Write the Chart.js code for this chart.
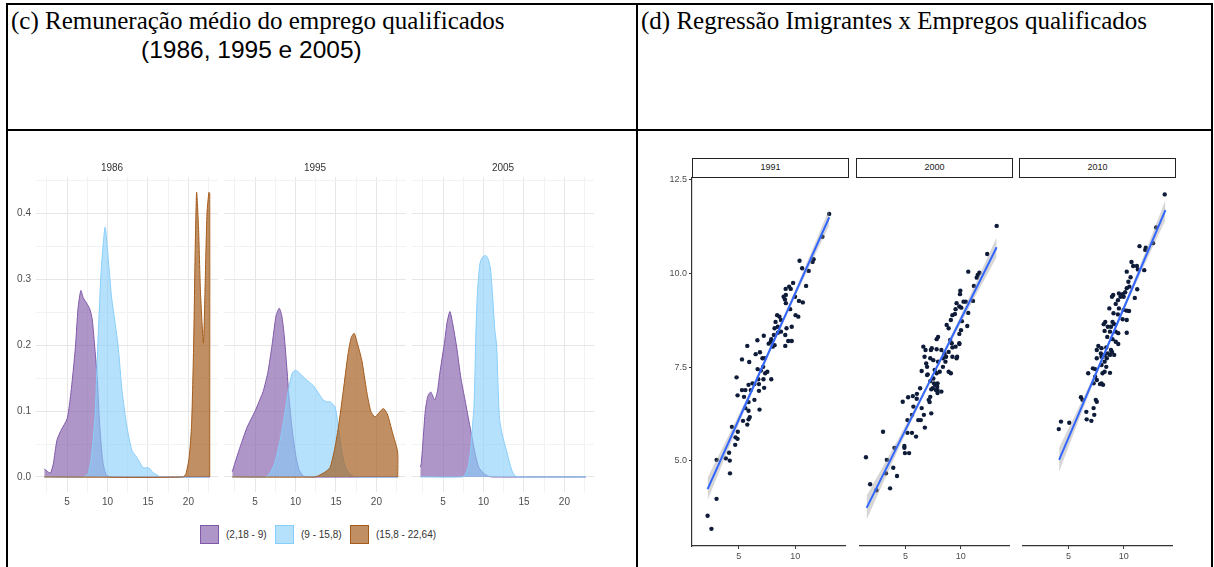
<!DOCTYPE html>
<html lang="pt">
<head>
<meta charset="utf-8">
<title>Remuneração e regressão</title>
<script src="https://cdn.jsdelivr.net/npm/chart.js@4.4.1/dist/chart.umd.min.js"></script>
<style>
  body { margin: 0; width: 1214px; height: 567px; position: relative; overflow: hidden; background: #fff; }
  .rule { position: absolute; background: #000; }
  .head { position: absolute; font-family: "Liberation Serif", "Times New Roman", serif; font-size: 25px; line-height: 25px; white-space: nowrap; color: #000; }
  .sub { position: absolute; font-family: "Liberation Sans", Arial, sans-serif; font-size: 24.5px; line-height: 24px; white-space: nowrap; color: #000; }
  canvas { position: absolute; }
  .strip { position: absolute; box-sizing: border-box; height: 20px; border: 1.5px solid #222; font: 9px "Liberation Sans", Arial, sans-serif; color: #1a1a1a; text-align: center; line-height: 17px; }
  .key { position: absolute; box-sizing: border-box; width: 19px; height: 19px; border: 1px solid; }
  .keytxt { position: absolute; font: 10px "Liberation Sans", Arial, sans-serif; line-height: 12px; color: #333; white-space: nowrap; }
</style>
</head>
<body>

<!-- table frame -->
<div class="rule" style="left:6px;top:3px;width:1207px;height:2px"></div>
<div class="rule" style="left:6px;top:3px;width:2px;height:564px"></div>
<div class="rule" style="left:1211px;top:3px;width:2px;height:564px"></div>
<div class="rule" style="left:636px;top:3px;width:2px;height:564px"></div>
<div class="rule" style="left:6px;top:129px;width:1207px;height:2px"></div>

<div class="head" style="left:11px;top:8px">(c) Remuneração médio do emprego qualificados</div>
<div class="sub" style="left:141px;top:38px">(1986, 1995 e 2005)</div>
<div class="head" style="left:641px;top:8px">(d) Regressão Imigrantes x Empregos qualificados</div>

<canvas id="d0" width="212" height="356" style="left:6px;top:159px"></canvas>
<canvas id="d1" width="182" height="356" style="left:224px;top:159px"></canvas>
<canvas id="d2" width="182" height="356" style="left:412px;top:159px"></canvas>
<div id="keys"></div>

<div class="strip" id="s0" style="left:692px;top:158px;width:157px"></div>
<div class="strip" id="s1" style="left:856px;top:158px;width:157px"></div>
<div class="strip" id="s2" style="left:1019px;top:158px;width:157px"></div>
<canvas id="r0" width="192" height="396" style="left:657px;top:170px"></canvas>
<canvas id="r1" width="157" height="396" style="left:856px;top:170px"></canvas>
<canvas id="r2" width="157" height="396" style="left:1019px;top:170px"></canvas>

<script>
// ---- salary density by year (left) ----
const leftYears = ["1986", "1995", "2005"];
const groups = ["(2,18 - 9)", "(9 - 15,8)", "(15,8 - 22,64)"];
const groupFill = ["rgba(128,90,170,0.64)", "rgba(135,206,250,0.62)", "rgba(162,91,26,0.68)"];
const groupEdge = ["#7f58a8", "#87cefa", "#a35a1a"];

// [salary, density]
const dens1986Low = [[2.18,0.012],[2.6,0.008],[2.95,0.006],[3.3,0.02],[3.75,0.056],[4.3,0.072],[5.0,0.088],[5.4,0.12],[5.75,0.16],[6.05,0.2],[6.35,0.255],[6.7,0.283],[7.0,0.272],[7.4,0.264],[7.8,0.255],[8.1,0.24],[8.4,0.2],[8.7,0.155],[9.05,0.076],[9.4,0.025],[9.8,0.004],[10.3,0],[22.64,0]];
const dens1986Mid = [[2.18,0],[7.0,0],[7.6,0.005],[8.0,0.03],[8.45,0.09],[8.8,0.2],[9.2,0.31],[9.7,0.379],[10.1,0.33],[10.5,0.273],[11.3,0.2],[11.8,0.13],[12.4,0.076],[13.0,0.041],[13.6,0.03],[14.0,0.022],[14.4,0.014],[14.8,0.014],[15.2,0.013],[15.6,0.007],[16.1,0.003],[16.6,0],[22.64,0]];
const dens1986High = [[2.18,0],[19.3,0],[19.7,0.005],[20.1,0.03],[20.4,0.08],[20.65,0.2],[20.85,0.35],[21.02,0.432],[21.25,0.38],[21.5,0.28],[21.86,0.203],[22.05,0.28],[22.3,0.4],[22.54,0.432],[22.64,0.43],[22.64,0]];
const dens1995Low = [[2.18,0.008],[3.0,0.04],[4.0,0.075],[5.0,0.1],[6.0,0.13],[6.6,0.16],[7.1,0.2],[7.6,0.245],[7.99,0.256],[8.3,0.245],[8.6,0.215],[8.9,0.17],[9.2,0.12],[9.6,0.07],[10.0,0.035],[10.4,0.012],[10.9,0.002],[11.4,0],[22.64,0]];
const dens1995Mid = [[2.18,0],[6.3,0],[6.8,0.005],[7.4,0.02],[8.1,0.056],[8.6,0.09],[9.1,0.13],[9.6,0.158],[10.05,0.162],[10.55,0.157],[11.3,0.148],[12.16,0.139],[12.8,0.128],[13.4,0.117],[13.9,0.114],[14.3,0.114],[14.9,0.106],[15.3,0.076],[15.7,0.04],[16.1,0.018],[16.5,0.008],[17.0,0.002],[17.6,0],[22.64,0]];
const dens1995High = [[2.18,0],[12.4,0],[13.0,0.003],[13.6,0.007],[14.26,0.014],[14.8,0.04],[15.3,0.075],[15.9,0.13],[16.5,0.187],[16.9,0.212],[17.26,0.218],[17.6,0.205],[18.2,0.177],[18.8,0.13],[19.3,0.1],[19.82,0.091],[20.3,0.097],[20.85,0.104],[21.1,0.101],[21.4,0.094],[22.0,0.067],[22.63,0.038],[22.64,0]];
const dens2005Low = [[2.18,0.015],[2.3,0.02],[2.55,0.06],[2.8,0.1],[3.1,0.122],[3.47,0.129],[3.97,0.117],[4.3,0.13],[4.59,0.157],[5.21,0.207],[5.5,0.235],[5.85,0.251],[6.2,0.232],[6.68,0.197],[7.2,0.15],[7.71,0.117],[8.33,0.076],[8.95,0.036],[9.4,0.015],[9.97,0.006],[10.6,0.001],[11.2,0],[22.64,0]];
const dens2005Mid = [[2.18,0],[7.3,0],[7.7,0.003],[8.1,0.015],[8.41,0.041],[8.65,0.08],[8.82,0.106],[8.95,0.16],[9.03,0.207],[9.25,0.28],[9.56,0.324],[9.9,0.334],[10.3,0.336],[10.6,0.33],[10.88,0.314],[11.15,0.27],[11.4,0.223],[11.62,0.2],[11.85,0.12],[12.0,0.086],[12.4,0.06],[12.82,0.041],[13.3,0.018],[13.64,0.006],[14.0,0.001],[14.3,0],[22.64,0]];
const dens2005High = [];

const densities = [
  [dens1986Low, dens1986Mid, dens1986High],
  [dens1995Low, dens1995Mid, dens1995High],
  [dens2005Low, dens2005Mid, dens2005High]
];

const salaryTicks = [2.5, 5, 7.5, 10, 12.5, 15, 17.5, 20, 22.5];
const densityTicks = [0, 0.05, 0.1, 0.15, 0.2, 0.25, 0.3, 0.35, 0.4, 0.45];

// ---- immigrants x skilled jobs (right) ----
const rightYears = ["1991", "2000", "2010"];
const pts1991 = [[12.99,11.59],[12.39,10.98],[11.61,10.38],[11.52,10.31],[10.37,10.34],[10.60,10.14],[11.18,10.07],[10.95,9.67],[9.80,9.75],[9.45,9.65],[9.14,9.59],[9.59,9.59],[9.16,9.43],[9.97,9.38],[8.96,9.38],[9.08,9.31],[9.16,9.21],[10.32,9.27],[10.66,9.23],[9.54,9.05],[10.02,8.89],[10.26,8.85],[8.39,8.89],[8.59,8.85],[8.25,8.71],[8.73,8.76],[8.45,8.58],[8.16,8.54],[9.68,8.58],[9.22,8.54],[8.73,8.45],[8.45,8.42],[7.21,8.34],[8.10,8.36],[7.87,8.25],[9.11,8.36],[6.64,8.22],[7.64,8.13],[7.82,8.18],[7.99,8.05],[9.37,8.20],[9.68,8.20],[9.11,8.07],[5.75,8.07],[6.87,7.90],[6.49,7.85],[7.09,7.74],[5.28,7.71],[8.16,8.09],[7.30,7.74],[5.92,7.64],[6.66,7.45],[6.95,7.41],[7.15,7.51],[7.33,7.34],[7.52,7.38],[4.80,7.23],[6.72,7.18],[7.18,7.18],[7.87,7.18],[5.86,7.03],[6.21,7.07],[6.38,7.05],[6.78,7.05],[5.28,6.89],[5.58,6.89],[6.06,6.89],[6.78,6.87],[7.24,6.95],[4.89,6.75],[5.46,6.71],[6.38,6.63],[5.86,6.57],[5.58,6.41],[6.83,6.37],[5.86,6.34],[5.97,6.17],[5.86,6.11],[5.37,6.07],[5.75,5.97],[4.39,5.91],[4.91,5.78],[4.71,5.63],[4.89,5.59],[4.68,5.43],[4.14,5.22],[3.04,5.03],[3.85,5.07],[4.20,5.01],[4.22,4.67],[3.03,3.99],[2.24,3.54],[2.58,3.19]];
const pts2000 = [[1.40,5.10],[1.78,4.38],[2.35,4.22],[2.95,5.78],[3.22,4.67],[3.59,4.27],[3.88,4.82],[3.99,5.35],[4.22,4.60],[3.30,5.03],[4.74,6.58],[4.89,5.40],[4.89,5.35],[4.94,5.21],[5.32,5.21],[5.17,6.09],[5.17,5.75],[5.23,6.70],[5.58,5.75],[5.66,6.73],[5.71,6.45],[5.95,5.65],[5.58,6.23],[6.01,6.66],[6.03,6.79],[6.32,6.94],[6.15,6.09],[6.38,6.09],[6.46,6.41],[6.66,6.23],[6.75,5.89],[6.46,7.40],[6.61,8.05],[6.72,7.78],[6.87,7.60],[7.01,7.31],[7.30,7.96],[7.24,7.13],[7.33,6.91],[7.18,6.57],[7.24,6.71],[7.33,6.27],[7.47,6.94],[7.76,6.89],[7.67,7.03],[7.90,6.89],[7.64,7.43],[7.52,7.20],[7.82,7.34],[7.52,7.69],[7.24,7.74],[7.90,6.81],[7.90,7.07],[7.10,6.63],[7.58,7.07],[7.87,6.98],[8.25,6.85],[6.95,7.29],[6.95,7.51],[8.10,7.38],[7.95,7.65],[8.39,7.74],[7.82,7.98],[8.25,7.96],[8.53,7.87],[8.62,7.65],[8.39,7.51],[8.91,7.38],[9.11,7.34],[8.68,7.78],[8.91,7.91],[9.25,7.78],[9.25,8.03],[9.54,8.05],[9.68,7.78],[9.88,8.12],[9.05,8.23],[9.19,8.14],[13.27,11.27],[12.41,10.52],[10.69,10.05],[11.70,10.02],[11.55,9.96],[11.46,9.89],[11.20,9.67],[9.97,9.54],[9.94,9.45],[11.12,9.27],[10.46,9.25],[10.26,9.25],[9.63,9.21],[9.88,9.12],[10.06,9.09],[9.54,9.05],[10.69,8.95],[9.25,8.89],[9.48,8.92],[9.11,8.76],[10.11,8.73],[8.73,8.63],[8.91,8.54],[10.60,8.60],[10.03,8.49],[9.88,8.39],[7.95,8.31],[7.82,8.25],[9.88,8.14],[7.38,8.01],[6.81,7.96],[9.63,7.74]];
const pts2010 = [[13.73,12.11],[12.95,11.23],[12.67,10.81],[11.44,10.73],[12.01,10.69],[11.96,10.63],[11.87,10.09],[10.71,10.31],[10.86,10.20],[11.20,10.20],[11.29,10.11],[10.28,10.05],[10.63,9.90],[10.43,9.78],[10.52,9.65],[11.23,9.58],[10.28,9.61],[10.14,9.50],[9.91,9.45],[10.00,9.38],[9.05,9.43],[8.94,9.38],[9.57,9.47],[9.71,9.38],[9.48,9.29],[11.01,9.35],[9.28,9.19],[9.57,9.07],[8.70,9.07],[10.00,9.03],[10.28,9.01],[10.49,9.00],[9.08,8.94],[9.48,8.91],[9.91,8.78],[8.33,8.71],[8.19,8.65],[8.99,8.71],[9.14,8.65],[8.85,8.58],[10.28,8.76],[8.56,8.58],[8.76,8.45],[8.27,8.47],[9.28,8.45],[9.51,8.41],[10.28,8.42],[8.51,8.31],[8.99,8.25],[9.28,8.18],[9.51,8.12],[7.70,8.07],[7.99,8.01],[7.56,7.96],[8.42,8.03],[8.85,7.96],[8.27,7.83],[7.99,7.78],[8.47,7.74],[7.93,7.87],[8.08,7.78],[7.56,7.74],[8.27,7.65],[8.56,7.87],[8.76,7.83],[8.94,7.91],[9.14,7.83],[7.99,7.56],[8.42,7.51],[8.27,7.38],[8.08,7.34],[8.76,7.35],[7.21,7.47],[7.41,7.45],[6.78,7.34],[7.41,7.25],[7.56,7.16],[7.27,7.07],[7.99,7.07],[8.13,7.03],[7.85,7.05],[6.12,6.70],[6.26,6.63],[7.47,6.63],[7.56,6.58],[6.61,6.31],[7.27,6.41],[7.33,6.23],[6.64,6.11],[7.07,6.07],[4.11,5.85],[4.31,6.05],[5.06,6.02]];

// fitted lm line and its standard-error half width
const fitX1991 = [2.24, 4.93, 7.62, 10.31, 13.0];
const fitY1991 = [4.25, 6.06, 7.88, 9.69, 11.5];
const se1991 = [0.3, 0.13, 0.07, 0.1, 0.22];
const fitX2000 = [1.46, 4.41, 7.37, 10.32, 13.27];
const fitY2000 = [3.75, 5.49, 7.23, 8.96, 10.7];
const se2000 = [0.32, 0.14, 0.07, 0.12, 0.26];
const fitX2010 = [4.14, 6.55, 8.97, 11.38, 13.79];
const fitY2010 = [5.03, 6.69, 8.36, 10.02, 11.69];
const se2010 = [0.32, 0.13, 0.07, 0.12, 0.27];

const xTicksRight = [5, 10];
const yTicksRight = [5, 7.5, 10, 12.5];

Chart.defaults.font.family = "'Liberation Sans', Arial, sans-serif";
Chart.defaults.animation = false;

const isFive = v => Math.abs(v % 5) < 1e-9;
const isTenth = v => Math.round(v * 100) % 10 === 0;

function densityChart(id, i, axisWidth) {
  new Chart(document.getElementById(id), {
    type: "line",
    data: {
      datasets: densities[i].map((pts, g) => ({
        label: groups[g],
        data: pts.map(p => ({ x: p[0], y: p[1] })),
        borderColor: groupEdge[g],
        backgroundColor: groupFill[g],
        borderWidth: 1,
        pointRadius: 0,
        tension: 0.2,
        fill: "origin",
        order: 2 - g
      }))
    },
    options: {
      responsive: false,
      layout: { padding: 0 },
      plugins: {
        legend: { display: false },
        tooltip: { enabled: false },
        title: { display: true, text: leftYears[i], color: "#333", font: { size: 10, weight: "normal" }, padding: { top: 3, bottom: 3 } }
      },
      scales: {
        x: {
          type: "linear", min: 1.157, max: 23.663,
          afterBuildTicks: s => { s.ticks = salaryTicks.map(v => ({ value: v })); },
          afterFit: s => { s.height = 23; },
          ticks: { autoSkip: false, maxRotation: 0, padding: 4, color: "#4d4d4d", font: { size: 10 }, callback: v => isFive(v) ? String(v) : "" },
          grid: { drawTicks: false, color: c => isFive(c.tick.value) ? "#e6e6e6" : "#f2f2f2" },
          border: { display: false }
        },
        y: {
          min: -0.0228, max: 0.4552,
          afterBuildTicks: s => { s.ticks = densityTicks.map(v => ({ value: v })); },
          afterFit: s => { s.width = axisWidth; },
          ticks: { display: axisWidth > 0, padding: 5, color: "#4d4d4d", font: { size: 10 }, callback: v => isTenth(v) ? v.toFixed(1) : "" },
          grid: { drawTicks: false, color: c => isTenth(c.tick.value) ? "#e6e6e6" : "#f2f2f2" },
          border: { display: false }
        }
      }
    }
  });
}

densityChart("d0", 0, 30);
densityChart("d1", 1, 0);
densityChart("d2", 2, 0);

// shared legend under the density facets
const keyLeft = [200, 275, 350];
const keys = document.getElementById("keys");
groups.forEach((name, g) => {
  const box = document.createElement("div");
  box.className = "key";
  box.style.cssText = `left:${keyLeft[g]}px;top:525px;background:${groupFill[g]};border-color:${groupEdge[g]}`;
  const txt = document.createElement("div");
  txt.className = "keytxt";
  txt.style.cssText = `left:${keyLeft[g] + 26}px;top:529px`;
  txt.textContent = name;
  keys.appendChild(box);
  keys.appendChild(txt);
});

function regressionChart(id, pts, fx, fy, se, showY) {
  const axisCol = "#333";
  new Chart(document.getElementById(id), {
    type: "scatter",
    data: {
      datasets: [
        { type: "line", data: fx.map((x, k) => ({ x, y: fy[k] })), borderColor: "#3366ff", borderWidth: 2, pointRadius: 0, fill: false, order: 0 },
        { type: "line", data: fx.map((x, k) => ({ x, y: fy[k] + se[k] })), borderColor: "transparent", borderWidth: 0, pointRadius: 0, tension: 0.35, fill: "+1", backgroundColor: "rgba(153,153,153,0.4)", order: 1 },
        { type: "line", data: fx.map((x, k) => ({ x, y: fy[k] - se[k] })), borderColor: "transparent", borderWidth: 0, pointRadius: 0, tension: 0.35, fill: false, order: 2 },
        { data: pts.map(p => ({ x: p[0], y: p[1] })), pointRadius: 2.2, backgroundColor: "#0e1c3a", borderWidth: 0, order: 3 }
      ]
    },
    options: {
      responsive: false,
      layout: { padding: { top: 8 } },
      plugins: { legend: { display: false }, tooltip: { enabled: false } },
      scales: {
        x: {
          type: "linear", min: 0.86, max: 14.39,
          afterBuildTicks: s => { s.ticks = xTicksRight.map(v => ({ value: v })); },
          afterFit: s => { s.height = 20; },
          ticks: { padding: 2, color: "#4d4d4d", font: { size: 9 } },
          grid: { drawOnChartArea: false, tickLength: 3, color: axisCol },
          border: { display: true, color: axisCol, width: 1.2 }
        },
        y: {
          display: showY, min: 2.733, max: 12.547,
          afterBuildTicks: s => { s.ticks = yTicksRight.map(v => ({ value: v })); },
          afterFit: s => { s.width = showY ? 35 : 0; },
          ticks: { padding: 2, color: "#4d4d4d", font: { size: 9 }, callback: v => v.toFixed(1) },
          grid: { drawOnChartArea: false, tickLength: 3, color: axisCol },
          border: { display: true, color: axisCol, width: 1.2 }
        }
      }
    }
  });
}

rightYears.forEach((y, k) => { document.getElementById("s" + k).textContent = y; });
regressionChart("r0", pts1991, fitX1991, fitY1991, se1991, true);
regressionChart("r1", pts2000, fitX2000, fitY2000, se2000, false);
regressionChart("r2", pts2010, fitX2010, fitY2010, se2010, false);
</script>
</body>
</html>
